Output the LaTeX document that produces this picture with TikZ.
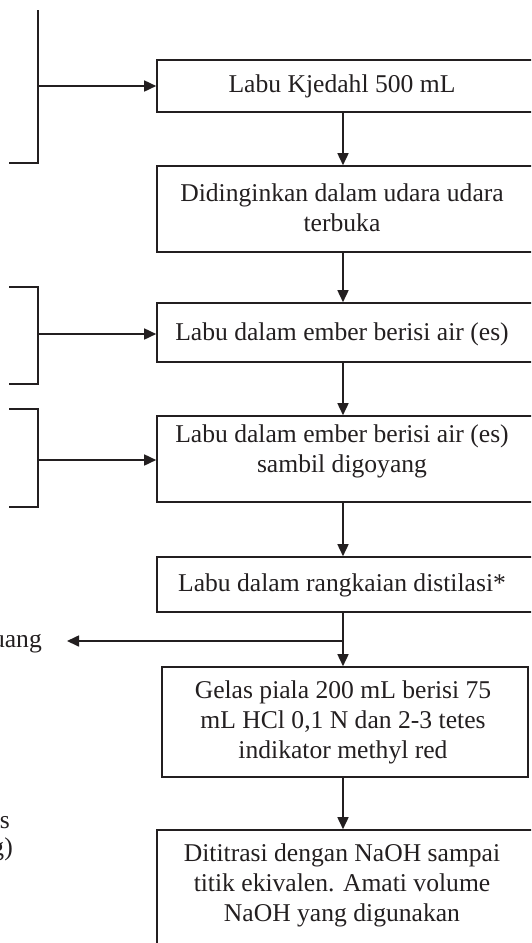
\documentclass[tikz,border=0pt]{standalone}
\usepackage{fontspec}
\setmainfont{Liberation Serif}
\usetikzlibrary{arrows.meta}
\definecolor{ink}{HTML}{231F20}
\begin{document}
\begin{tikzpicture}[x=1pt,y=-1pt,
  box/.style={draw=ink, line width=1.6pt, rectangle, inner sep=0pt},
  txt/.style={text=ink, align=center, inner sep=0pt, font=\fontsize{25.6}{30}\selectfont},
  side/.style={text=ink, inner sep=0pt, font=\fontsize{25.6}{30}\selectfont},
  arr/.style={draw=ink, line width=1.6pt, -{Triangle[length=12pt,width=11pt]}},
  ln/.style={draw=ink, line width=1.6pt}]
\useasboundingbox (0,0) rectangle (531,943);
\clip (0,0) rectangle (531,943);
% boxes
\node[box, minimum width=388pt, minimum height=52pt] (b1) at (351,86) {};
\node[box, minimum width=388pt, minimum height=86pt] (b2) at (351,209) {};
\node[box, minimum width=388pt, minimum height=59pt] (b3) at (351,332.5) {};
\node[box, minimum width=388pt, minimum height=86pt] (b4) at (351,459) {};
\node[box, minimum width=388pt, minimum height=55pt] (b5) at (351,584.5) {};
\node[box, minimum width=366pt, minimum height=110pt] (b6) at (345,722) {};
\node[box, minimum width=388pt, minimum height=130pt] (b7) at (351,895) {};
% texts
\node[txt] (t1) at (342,86) {Labu Kjedahl 500 mL};
\node[txt] (t2) at (342,208) {Didinginkan dalam udara udara\\terbuka};
\node[txt] (t3) at (342,334) {Labu dalam ember berisi air (es)};
\node[txt] (t4) at (342,451) {Labu dalam ember berisi air (es)\\sambil digoyang};
\node[txt] (t5) at (342,585) {Labu dalam rangkaian distilasi*};
\node[txt] (t6) at (343,722) {Gelas piala 200 mL berisi 75\\mL HCl 0,1 N dan 2-3 tetes\\indikator methyl red};
\node[txt] (t7) at (342,885) {Dititrasi dengan NaOH sampai\\titik ekivalen. Amati volume\\NaOH yang digunakan};
% left fragments
\node[side, anchor=base east] (s1) at (42,647) {uang};
\node[side, anchor=base east] (s2) at (10,828) {s};
\node[side, anchor=base east] (s3) at (13,855) {g)};
% column for vertical arrows
\coordinate (ax) at (343,0);
\draw[arr] (b1.south -| ax) -- (b2.north -| ax);
\draw[arr] (b2.south -| ax) -- (b3.north -| ax);
\draw[arr] (b3.south -| ax) -- (b4.north -| ax);
\draw[arr] (b4.south -| ax) -- (b5.north -| ax);
\draw[arr] (b5.south -| ax) -- (b6.north -| ax);
\draw[arr] (b6.south -| ax) -- (b7.north -| ax);
% split to left
\coordinate (j) at (343,641);
\coordinate (w) at (67,641);
\draw[arr] (j) -- (w);
% brackets
\coordinate (k1a) at (38,10);
\coordinate (k1b) at (38,163);
\coordinate (k1c) at (9,163);
\draw[ln] (k1a) -- (k1b) -- (k1c);
\coordinate (k1) at (38,86);
\draw[arr] (k1) -- (k1 -| b1.west);
\coordinate (k2a) at (9,287);
\coordinate (k2b) at (38,287);
\coordinate (k2c) at (38,384);
\coordinate (k2d) at (9,384);
\draw[ln] (k2a) -- (k2b) -- (k2c) -- (k2d);
\coordinate (k2) at (38,334);
\draw[arr] (k2) -- (k2 -| b3.west);
\coordinate (k3a) at (9,409);
\coordinate (k3b) at (38,409);
\coordinate (k3c) at (38,507);
\coordinate (k3d) at (9,507);
\draw[ln] (k3a) -- (k3b) -- (k3c) -- (k3d);
\coordinate (k3) at (38,460);
\draw[arr] (k3) -- (k3 -| b4.west);
\end{tikzpicture}
\end{document}
